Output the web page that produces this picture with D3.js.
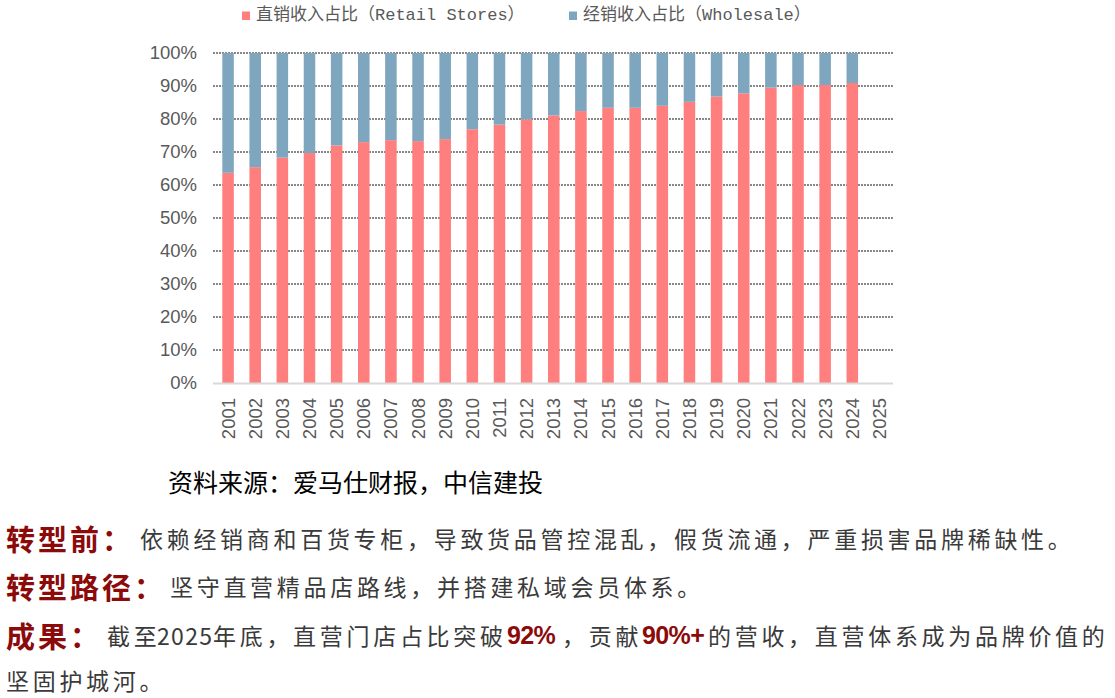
<!DOCTYPE html>
<html>
<head>
<meta charset="utf-8">
<script src="https://cdn.jsdelivr.net/npm/d3@7"></script>
<style>
    body { margin: 0; background: #fff; }
    svg { display: block; }
</style>
</head>
<body>
<div id="chart"></div>
<script>
"use strict";

// categories (years)
var years = ["2001", "2002", "2003", "2004", "2005", "2006", "2007", "2008", "2009", "2010",
    "2011", "2012", "2013", "2014", "2015", "2016", "2017", "2018", "2019", "2020",
    "2021", "2022", "2023", "2024", "2025"];

// share of revenue from retail stores (%)
var retailShare = [63.7, 65.4, 68.3, 69.7, 72.0, 73.0, 73.6, 73.3, 73.9, 76.9,
    78.3, 79.9, 81.1, 82.4, 83.4, 83.4, 84.0, 85.2, 86.8, 87.8,
    89.5, 90.3, 90.3, 90.9, null];

// share of revenue from wholesale (%)
var wholesaleShare = [36.3, 34.6, 31.7, 30.3, 28.0, 27.0, 26.4, 26.7, 26.1, 23.1,
    21.7, 20.1, 18.9, 17.6, 16.6, 16.6, 16.0, 14.8, 13.2, 12.2,
    10.5, 9.7, 9.7, 9.1, null];

// y axis ticks
var yTicks = [0, 10, 20, 30, 40, 50, 60, 70, 80, 90, 100];

// legend labels
var seriesNames = ["直销收入占比（Retail Stores）", "经销收入占比（Wholesale）"];
var seriesColors = ["#ff7f7f", "#7fa6bf"];

var width = 1115, height = 698;

var svg = d3.select("#chart").append("svg")
    .attr("width", width)
    .attr("height", height);

// scales
var xScale = d3.scaleBand()
    .domain(years)
    .range([214.5, 893])
    .paddingInner(0.575)
    .paddingOuter(0.2875);

var yScale = d3.scaleLinear()
    .domain([0, 100])
    .range([383, 53]);

// dashed grid lines
svg.append("g")
    .selectAll("line")
    .data(yTicks.filter(function(d) { return d > 0; }))
    .enter().append("line")
    .attr("x1", 213)
    .attr("x2", 893)
    .attr("y1", function(d) { return yScale(d); })
    .attr("y2", function(d) { return yScale(d); })
    .attr("stroke", "#111")
    .attr("stroke-width", 1)
    .attr("stroke-dasharray", "2,1");

// y axis labels
var yAxis = d3.axisLeft(yScale)
    .tickValues(yTicks)
    .tickSize(0)
    .tickPadding(16)
    .tickFormat(function(d) { return d + "%"; });

var yG = svg.append("g")
    .attr("transform", "translate(213,0)")
    .call(yAxis);
yG.select(".domain").remove();
yG.selectAll("text")
    .attr("font-family", "'Liberation Sans', Arial, sans-serif")
    .attr("font-size", 18.5)
    .attr("fill", "#595959");

// stacked bars: retail at bottom, wholesale on top
var bars = svg.append("g");
years.forEach(function(year, i) {
    if (retailShare[i] === null) return;
    bars.append("rect")
        .attr("x", xScale(year))
        .attr("width", xScale.bandwidth())
        .attr("y", yScale(retailShare[i]))
        .attr("height", yScale(0) - yScale(retailShare[i]))
        .attr("fill", seriesColors[0]);
    bars.append("rect")
        .attr("x", xScale(year))
        .attr("width", xScale.bandwidth())
        .attr("y", yScale(retailShare[i] + wholesaleShare[i]))
        .attr("height", yScale(retailShare[i]) - yScale(retailShare[i] + wholesaleShare[i]))
        .attr("fill", seriesColors[1]);
});

// baseline
svg.append("line")
    .attr("x1", 213)
    .attr("x2", 893)
    .attr("y1", yScale(0) + 0.5)
    .attr("y2", yScale(0) + 0.5)
    .attr("stroke", "#d9d9d9")
    .attr("stroke-width", 2);

// x axis labels, rotated
var xAxis = d3.axisBottom(xScale).tickSize(0).tickPadding(0);
var xG = svg.append("g")
    .attr("transform", "translate(0," + yScale(0) + ")")
    .call(xAxis);
xG.select(".domain").remove();
xG.selectAll("text")
    .attr("font-family", "'Liberation Sans', Arial, sans-serif")
    .attr("font-size", 18.5)
    .attr("fill", "#595959")
    .attr("text-anchor", "end")
    .attr("dy", null)
    .attr("y", 0)
    .attr("dominant-baseline", "central")
    .attr("transform", "translate(0,15) rotate(-90)");

// legend
var legendX = [242, 569];
seriesNames.forEach(function(name, i) {
    svg.append("rect")
        .attr("x", legendX[i])
        .attr("y", 11.5)
        .attr("width", 8)
        .attr("height", 8.5)
        .attr("fill", seriesColors[i]);
    svg.append("text")
        .attr("x", legendX[i] + 14)
        .attr("y", 15)
        .attr("dominant-baseline", "central")
        .attr("font-family", "'Liberation Mono', 'Noto Sans CJK SC', monospace")
        .attr("font-size", 17)
        .attr("fill", "#595959")
        .text(name);
});

// source note
svg.append("text")
    .attr("x", 168)
    .attr("y", 481)
    .attr("dominant-baseline", "central")
    .attr("font-family", "'Noto Sans CJK SC', sans-serif")
    .attr("font-size", 25)
    .attr("fill", "#000")
    .text("资料来源：爱马仕财报，中信建投");

// commentary text below the chart
var headStyle = { size: 29, weight: "bold", fill: "#8b0a0a", spacing: 3, family: "'Noto Sans CJK SC', sans-serif" };
var bodyStyle = { size: 23, weight: "normal", fill: "#3a3a3a", spacing: 3.7, family: "'Noto Sans CJK SC', sans-serif" };
var digitStyle = { size: 23, weight: "normal", fill: "#3a3a3a", spacing: 1.3, family: "'Noto Sans CJK SC', sans-serif" };
var numStyle = { size: 25, weight: "bold", fill: "#8b0a0a", spacing: -0.6, family: "'Liberation Sans', Arial, sans-serif" };

var notes = [
    { y: 538, parts: [
        { x: 6, t: "转型前：", s: headStyle },
        { x: 140, t: "依赖经销商和百货专柜，导致货品管控混乱，假货流通，严重损害品牌稀缺性。", s: bodyStyle }
    ] },
    { y: 586, parts: [
        { x: 6, t: "转型路径：", s: headStyle },
        { x: 170, t: "坚守直营精品店路线，并搭建私域会员体系。", s: bodyStyle }
    ] },
    { y: 635, parts: [
        { x: 6, t: "成果：", s: headStyle },
        { x: 107, t: "截至", s: bodyStyle },
        { x: 157, t: "2025", s: digitStyle },
        { x: 213, t: "年底，直营门店占比突破", s: bodyStyle },
        { x: 507, t: "92%", s: numStyle },
        { x: 562, t: "，贡献", s: bodyStyle },
        { x: 642, t: "90%+", s: numStyle },
        { x: 708, t: "的营收，直营体系成为品牌价值的", s: bodyStyle }
    ] },
    { y: 680, parts: [
        { x: 6, t: "坚固护城河。", s: bodyStyle }
    ] }
];

notes.forEach(function(line) {
    line.parts.forEach(function(p) {
        svg.append("text")
            .attr("x", p.x)
            .attr("y", line.y)
            .attr("dominant-baseline", "central")
            .attr("font-family", p.s.family)
            .attr("font-size", p.s.size)
            .attr("font-weight", p.s.weight)
            .attr("letter-spacing", p.s.spacing)
            .attr("fill", p.s.fill)
            .text(p.t);
    });
});
</script>
</body>
</html>
